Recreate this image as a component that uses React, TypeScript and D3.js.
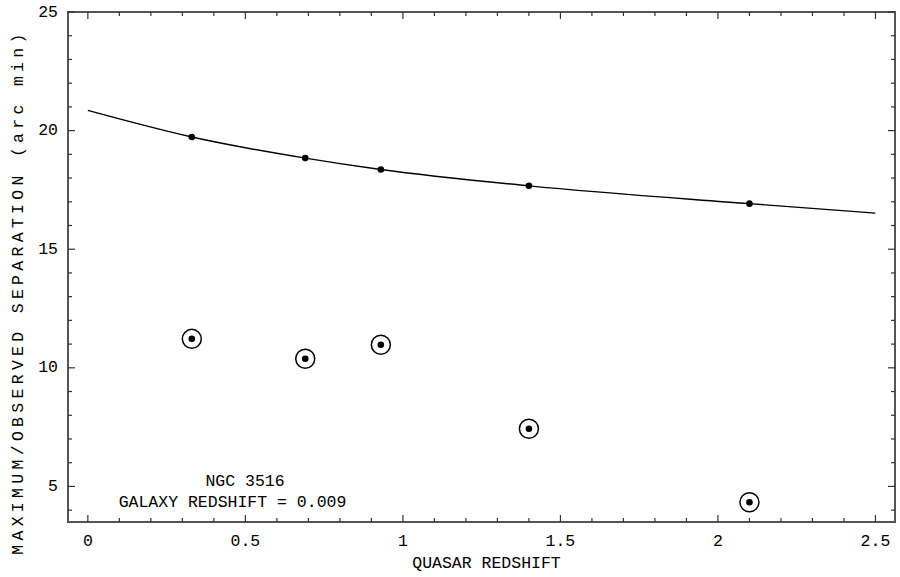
import React, { useRef, useEffect } from 'react'
import * as d3 from 'd3'

// Quasar redshift vs. max/observed separation (NGC 3516)
const curveZ = [0, 0.33, 0.69, 0.93, 1.4, 2.1, 2.5]
const curveSep = [20.85, 19.73, 18.84, 18.36, 17.67, 16.92, 16.52]

const quasarZ = [0.33, 0.69, 0.93, 1.4, 2.1]
const maxSep = [19.73, 18.84, 18.36, 17.67, 16.92]
const observedSep = [11.22, 10.38, 10.97, 7.43, 4.33]

const xMajor = [0, 0.5, 1, 1.5, 2, 2.5]
const xMajorLabels = ['0', '0.5', '1', '1.5', '2', '2.5']
const xMinor = [0.1, 0.2, 0.3, 0.4, 0.6, 0.7, 0.8, 0.9, 1.1, 1.2, 1.3, 1.4, 1.6, 1.7, 1.8, 1.9, 2.1, 2.2, 2.3, 2.4]
const yMajor = [5, 10, 15, 20, 25]
const yMinor = [4, 6, 7, 8, 9, 11, 12, 13, 14, 16, 17, 18, 19, 21, 22, 23, 24]

const FONT = '"Liberation Mono", "DejaVu Sans Mono", monospace'

export default function App() {
  const svgRef = useRef<SVGSVGElement>(null)

  useEffect(() => {
    const svg = d3.select(svgRef.current)
    svg.selectAll('*').remove()

    const left = 68
    const right = 895
    const top = 12
    const bottom = 522

    const x = d3.scaleLinear().domain([-0.063, 2.562]).range([left, right])
    const y = d3.scaleLinear().domain([3.5, 25]).range([bottom, top])

    const g = svg.append('g')

    // fitted curve
    const pts = curveZ.map((z, i) => [z, curveSep[i]] as [number, number])
    const line = d3
      .line<[number, number]>()
      .x((d) => x(d[0]))
      .y((d) => y(d[1]))
      .curve(d3.curveMonotoneX)
    g.append('path')
      .datum(pts)
      .attr('fill', 'none')
      .attr('stroke', '#000')
      .attr('stroke-width', 1.4)
      .attr('d', line)

    // maxima on the curve
    quasarZ.forEach((z, i) => {
      g.append('circle').attr('cx', x(z)).attr('cy', y(maxSep[i])).attr('r', 3.3).attr('fill', '#000')
    })

    // observed separations (circled dots)
    quasarZ.forEach((z, i) => {
      g.append('circle')
        .attr('cx', x(z)).attr('cy', y(observedSep[i])).attr('r', 9.5)
        .attr('fill', 'none').attr('stroke', '#000').attr('stroke-width', 1.5)
      g.append('circle').attr('cx', x(z)).attr('cy', y(observedSep[i])).attr('r', 3.3).attr('fill', '#000')
    })

    // frame
    g.append('rect')
      .attr('x', left).attr('y', top)
      .attr('width', right - left).attr('height', bottom - top)
      .attr('fill', 'none').attr('stroke', '#555').attr('stroke-width', 2)

    const tick = (x1: number, y1: number, x2: number, y2: number) =>
      g.append('line')
        .attr('x1', x1).attr('y1', y1).attr('x2', x2).attr('y2', y2)
        .attr('stroke', '#333').attr('stroke-width', 1.2)

    xMajor.forEach((v) => {
      tick(x(v), bottom, x(v), bottom - 7)
      tick(x(v), top, x(v), top + 7)
    })
    xMinor.forEach((v) => {
      tick(x(v), bottom, x(v), bottom - 4)
      tick(x(v), top, x(v), top + 4)
    })
    yMajor.forEach((v) => {
      tick(left, y(v), left + 7, y(v))
      tick(right, y(v), right - 7, y(v))
    })
    yMinor.forEach((v) => {
      tick(left, y(v), left + 4, y(v))
      tick(right, y(v), right - 4, y(v))
    })

    // tick labels
    xMajor.forEach((v, i) => {
      g.append('text')
        .attr('x', x(v)).attr('y', 546)
        .attr('text-anchor', 'middle')
        .style('font-family', FONT).style('font-size', '16.5px')
        .text(xMajorLabels[i])
    })
    yMajor.forEach((v) => {
      g.append('text')
        .attr('x', 58).attr('y', y(v))
        .attr('text-anchor', 'end').attr('dominant-baseline', 'central')
        .style('font-family', FONT).style('font-size', '16.5px')
        .text(v)
    })

    // axis titles
    g.append('text')
      .attr('x', (left + right) / 2 + 5).attr('y', 568)
      .attr('text-anchor', 'middle')
      .style('font-family', FONT).style('font-size', '16.5px')
      .text('QUASAR REDSHIFT')
    g.append('text')
      .attr('transform', `translate(23, ${292}) rotate(-90)`)
      .attr('text-anchor', 'middle')
      .style('font-family', FONT).style('font-size', '16.5px')
      .style('letter-spacing', '4.3px')
      .text('MAXIMUM/OBSERVED SEPARATION (arc min)')

    // annotation
    g.append('text')
      .attr('x', 245).attr('y', 486)
      .attr('text-anchor', 'middle')
      .style('font-family', FONT).style('font-size', '16.5px')
      .text('NGC 3516')
    g.append('text')
      .attr('x', 232.5).attr('y', 507)
      .attr('text-anchor', 'middle')
      .style('font-family', FONT).style('font-size', '16.5px')
      .text('GALAXY REDSHIFT = 0.009')
  }, [])

  return (
    <svg
      ref={svgRef}
      width={900}
      height={577}
      style={{ position: 'absolute', left: 0, top: 0, background: '#fff' }}
    />
  )
}
